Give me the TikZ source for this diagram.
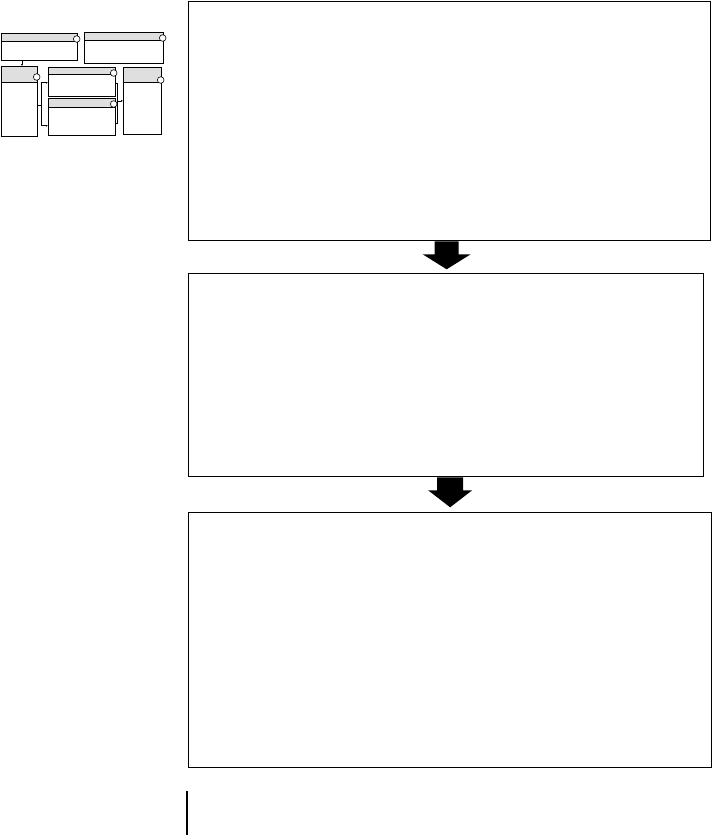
\documentclass[tikz,border=0pt]{standalone}
\usepackage{tikz}
\usetikzlibrary{calc}
\usetikzlibrary{arrows.meta}

\tikzset{
    minibox/.style={draw, line width=0.7pt, inner sep=0pt, anchor=north west,
        path picture={
            \fill[gray!25] (path picture bounding box.north west)
                rectangle ([yshift=-#1]path picture bounding box.north east);
            \draw[line width=0.7pt] ([yshift=-#1]path picture bounding box.north west)
                -- ([yshift=-#1]path picture bounding box.north east);
        }},
    minilink/.style={line width=0.5pt, -{Latex[length=2pt,width=2pt]}},
    stage/.style={draw, line width=1.3pt, inner sep=0pt, anchor=north west},
}

\begin{document}
\begin{tikzpicture}[x=1pt, y=-1pt]
    \useasboundingbox (0,0) rectangle (712,835);

    % overview boxes
    \node[minibox=8pt, minimum width=76pt, minimum height=27pt] (boxA) at (1,33) {};
    \node[minibox=8pt, minimum width=79pt, minimum height=31pt] (boxB) at (84,32) {};
    \node[minibox=16pt, minimum width=36pt, minimum height=70pt] (boxC) at (1,66) {};
    \node[minibox=7pt, minimum width=67pt, minimum height=29pt] (boxD) at (48,67) {};
    \node[minibox=9pt, minimum width=67pt, minimum height=37pt] (boxE) at (48,98) {};
    \node[minibox=15pt, minimum width=38pt, minimum height=67pt] (boxF) at (123,67) {};

    % header knobs
    \draw[line width=0.6pt, fill=white] ($(boxA.north east)+(-1,6)$) circle (3.3);
    \draw[line width=0.6pt, fill=white] ($(boxB.north east)+(-1,6)$) circle (3.3);
    \draw[line width=0.6pt, fill=white] ($(boxC.north east)+(-1,11)$) circle (3.3);
    \draw[line width=0.6pt, fill=white] ($(boxD.north east)+(-2,6)$) circle (3.3);
    \draw[line width=0.6pt, fill=white] ($(boxE.north east)+(-2,6)$) circle (3.3);
    \draw[line width=0.6pt, fill=white] ($(boxF.north east)+(-1,13)$) circle (3.3);

    % overview links
    \coordinate (lsplit) at ($(boxC.east)+(4,4)$);
    \coordinate (rjoin) at ($(boxD.east)+(2,19)$);
    \draw[minilink] ($(boxA.south west)+(21,0)$) -- ($(boxC.north west)+(21,0)$);
    \draw[line width=0.5pt] (boxC.east |- lsplit) -- (lsplit);
    \draw[minilink] (lsplit) |- ($(boxD.south west)+(0,-14)$);
    \draw[minilink] (lsplit) |- ($(boxE.south west)+(0,-10)$);
    \draw[line width=0.5pt] ($(boxD.south east)+(0,-13)$) -| (rjoin);
    \draw[line width=0.5pt] ($(boxE.south east)+(0,-12)$) -| (rjoin);
    \draw[minilink] (rjoin) -- (boxF.west |- rjoin);

    % stage frames
    \node[stage, minimum width=522pt, minimum height=239pt] (stageA) at (188,1) {};
    \node[stage, minimum width=515pt, minimum height=203pt] (stageB) at (188,273) {};
    \node[stage, minimum width=523pt, minimum height=255pt] (stageC) at (188,512) {};

    % block arrows between stages
    \coordinate (arrA) at ($(stageA.south)+(-3,0)$);
    \coordinate (arrB) at ($(stageB.south)+(4,0)$);
    \fill (arrA) ++(-12,0) -- ++(24,0) -- ++(0,13) -- ++(12,0) -- ++(-24,15)
        -- ++(-24,-15) -- ++(12,0) -- cycle;
    \fill (arrB) ++(-13,0) -- ++(26,0) -- ++(0,13) -- ++(9,0) -- ++(-22,17)
        -- ++(-22,-17) -- ++(9,0) -- cycle;

    % margin bar
    \draw[line width=1.3pt] ($(stageC.south west)+(-1,23)$) -- ++(0,45);
\end{tikzpicture}
\end{document}
